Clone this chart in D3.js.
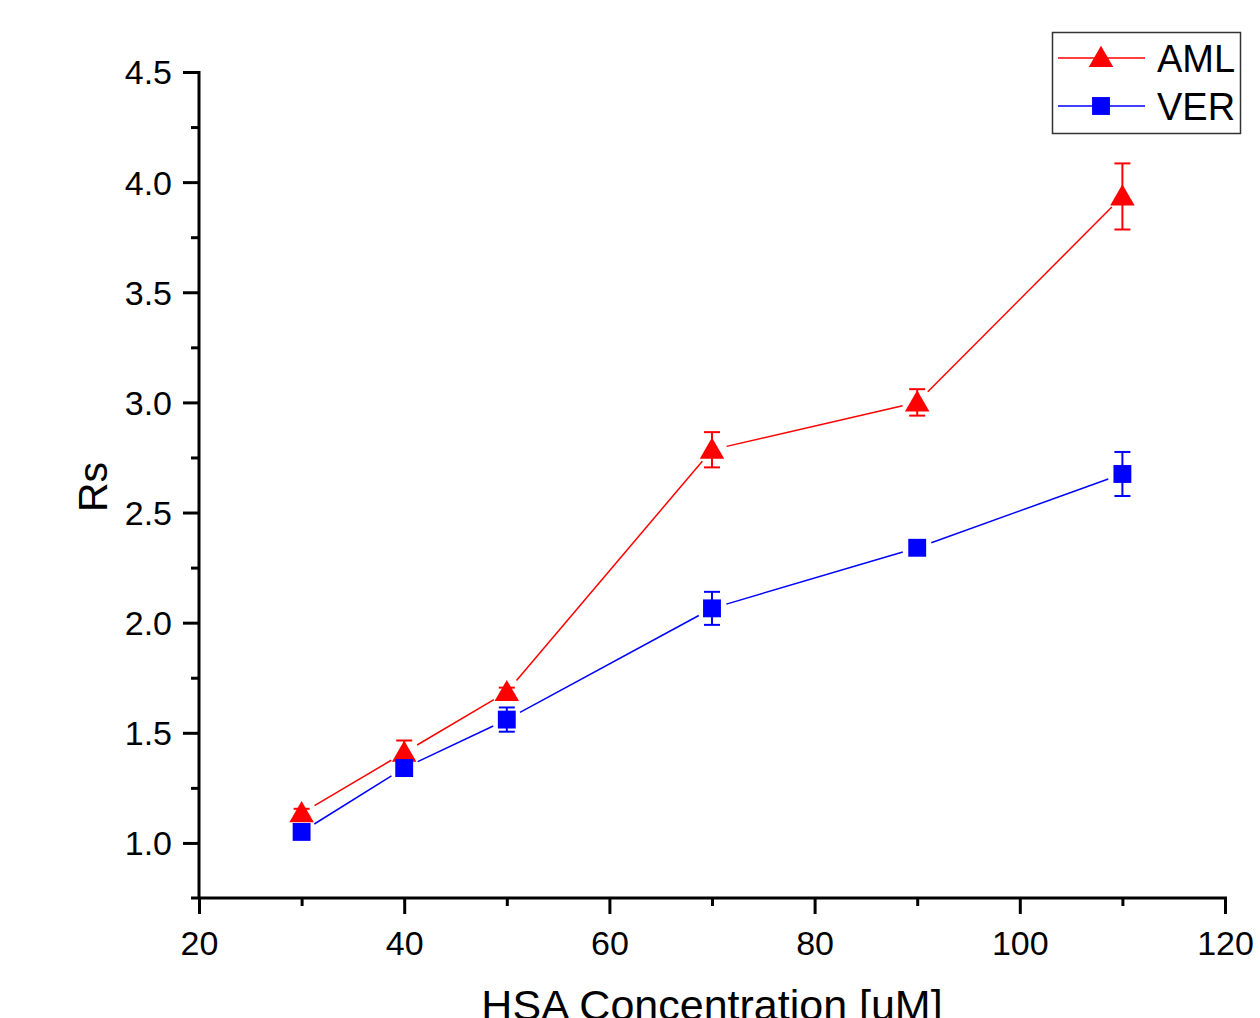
<!DOCTYPE html>
<html>
<head>
<meta charset="utf-8">
<script src="https://cdn.jsdelivr.net/npm/d3@7.9.0/dist/d3.min.js"></script>
<style>
  html, body { margin: 0; padding: 0; background: #fff; }
  svg { display: block; font-family: "Liberation Sans", Arial, sans-serif; }
</style>
</head>
<body>
<svg id="chart" width="1260" height="1018"></svg>
<script>
const concentrations = [30, 40, 50, 70, 90, 110];
const amlValues = [1.135, 1.41, 1.685, 2.785, 3.0, 3.935];
const amlErrors = [0.02, 0.055, 0.02, 0.08, 0.06, 0.15];
const verValues = [1.05, 1.34, 1.56, 2.065, 2.34, 2.675];
const verErrors = [0.02, 0.02, 0.055, 0.075, 0.03, 0.1];
const xTicks = [20, 40, 60, 80, 100, 120];
const yTicks = [1.0, 1.5, 2.0, 2.5, 3.0, 3.5, 4.0, 4.5];

const series = [
  { name: "AML", color: "#ff0000", shape: "triangle", values: amlValues, errors: amlErrors },
  { name: "VER", color: "#0000ff", shape: "square", values: verValues, errors: verErrors }
];

const svg = d3.select("#chart");
const x = d3.scaleLinear().domain([20, 120]).range([199, 1225]);
const y = d3.scaleLinear().domain([0.75, 4.5]).range([898, 72]);
const fontFam = "Liberation Sans, Arial, sans-serif";

// axes
const xAxis = svg.append("g").attr("transform", "translate(0,898)");
xAxis.call(d3.axisBottom(x).tickValues(xTicks).tickFormat(d3.format("d")).tickSize(16).tickSizeOuter(0))
xAxis.append("g").call(d3.axisBottom(x).tickValues(d3.range(30, 120, 20)).tickFormat("").tickSize(8).tickSizeOuter(0));
xAxis.selectAll(".domain").remove();
xAxis.append("line").attr("x1", 191).attr("x2", 1227).attr("stroke", "#000").attr("stroke-width", 3);
xAxis.selectAll("line").attr("stroke-width", 3);
xAxis.selectAll(".tick text").attr("font-size", 34).attr("font-family", fontFam).attr("fill", "#000")
  .attr("y", 57).attr("dy", null);

const yAxis = svg.append("g").attr("transform", "translate(199,0)");
yAxis.call(d3.axisLeft(y).tickValues(yTicks).tickFormat(d3.format(".1f")).tickSize(16).tickSizeOuter(0));
yAxis.append("g").call(d3.axisLeft(y).tickValues(d3.range(1.25, 4.5, 0.5)).tickFormat("").tickSize(8).tickSizeOuter(0));
yAxis.selectAll(".domain").remove();
yAxis.append("line").attr("y1", 71).attr("y2", 898).attr("stroke", "#000").attr("stroke-width", 3);
yAxis.selectAll("line").attr("stroke-width", 3);
yAxis.selectAll(".tick text").attr("font-size", 34).attr("font-family", fontFam).attr("fill", "#000")
  .attr("x", -27).attr("dy", "0.35em");

// axis titles
svg.append("text")
  .attr("transform", "translate(107,487) rotate(-90)")
  .attr("text-anchor", "middle")
  .attr("font-size", 41)
  .text("Rs");
svg.append("text")
  .attr("x", 712).attr("y", 1020)
  .attr("text-anchor", "middle")
  .attr("font-size", 43)
  .text("HSA Concentration [uM]");

const triangle = d3.symbol().type(d3.symbolTriangle).size(260);
const square = d3.symbol().type(d3.symbolSquare).size(320);
const gap = 15;

series.forEach(s => {
  const g = svg.append("g");
  const pts = concentrations.map((c, i) => [x(c), y(s.values[i])]);

  // connecting segments with gaps around markers
  for (let i = 0; i < pts.length - 1; i++) {
    const [x0, y0] = pts[i], [x1, y1] = pts[i + 1];
    const len = Math.hypot(x1 - x0, y1 - y0);
    const ux = (x1 - x0) / len, uy = (y1 - y0) / len;
    g.append("line")
      .attr("x1", x0 + ux * gap).attr("y1", y0 + uy * gap)
      .attr("x2", x1 - ux * gap).attr("y2", y1 - uy * gap)
      .attr("stroke", s.color).attr("stroke-width", 1.5);
  }

  // error bars
  concentrations.forEach((c, i) => {
    const cx = x(c);
    const top = y(s.values[i] + s.errors[i]);
    const bot = y(s.values[i] - s.errors[i]);
    g.append("line").attr("x1", cx).attr("x2", cx).attr("y1", top).attr("y2", bot)
      .attr("stroke", s.color).attr("stroke-width", 2);
    [top, bot].forEach(v => {
      g.append("line").attr("x1", cx - 8).attr("x2", cx + 8).attr("y1", v).attr("y2", v)
        .attr("stroke", s.color).attr("stroke-width", 2);
    });
  });

  // markers
  g.selectAll("path.marker")
    .data(concentrations)
    .join("path")
    .attr("class", "marker")
    .attr("d", s.shape === "triangle" ? triangle : square)
    .attr("transform", (c, i) => `translate(${x(c)},${y(s.values[i]) + (s.shape === "triangle" ? 2 : 0)})`)
    .attr("fill", s.color);
});

// legend
const legend = svg.append("g");
legend.append("rect")
  .attr("x", 1052.5).attr("y", 32.5).attr("width", 188).attr("height", 101)
  .attr("fill", "#fff").attr("stroke", "#333").attr("stroke-width", 1.5);
series.forEach((s, i) => {
  const ly = 58 + i * 48;
  legend.append("line").attr("x1", 1058).attr("x2", 1145).attr("y1", ly).attr("y2", ly)
    .attr("stroke", s.color).attr("stroke-width", 1.5);
  legend.append("path")
    .attr("d", s.shape === "triangle" ? triangle : square)
    .attr("transform", `translate(1101,${ly + (s.shape === "triangle" ? 2 : 0)})`)
    .attr("fill", s.color);
  legend.append("text")
    .attr("x", 1157).attr("y", ly + 14)
    .attr("font-size", 38)
    .text(s.name);
});
</script>
</body>
</html>
